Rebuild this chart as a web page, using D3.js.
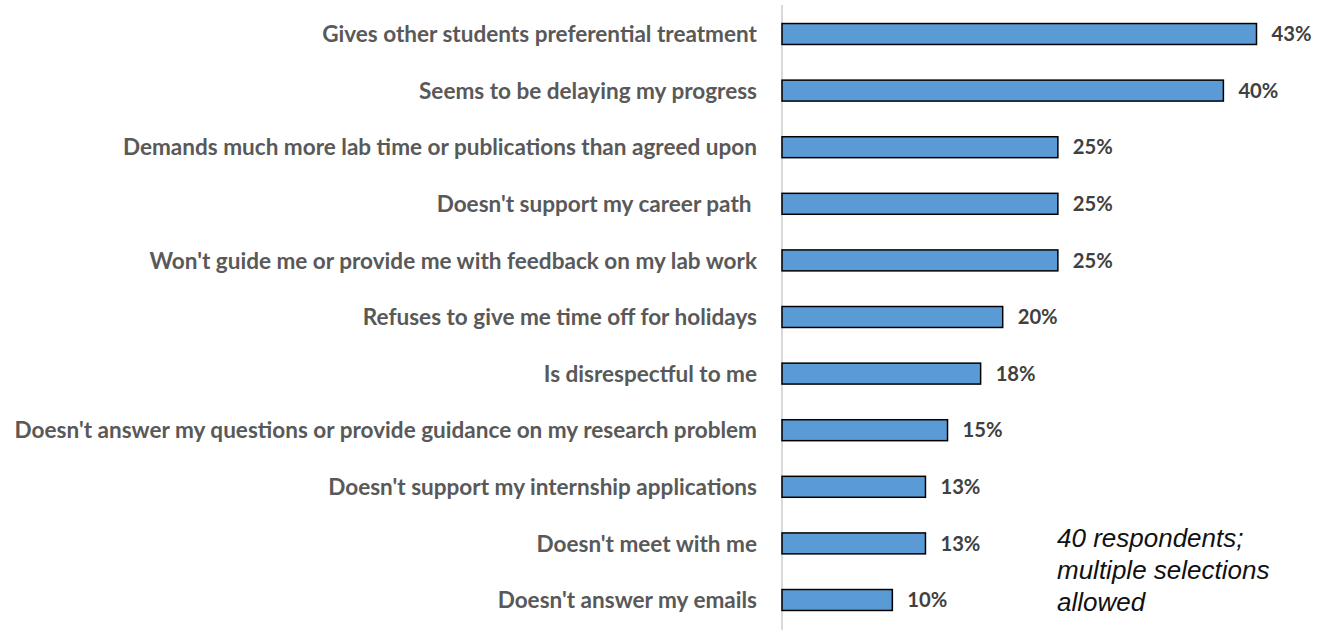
<!DOCTYPE html>
<html>
<head>
<meta charset="utf-8">
<script src="https://cdn.jsdelivr.net/npm/d3@7"></script>
<style>
  html, body { margin: 0; padding: 0; background: #ffffff; }
  svg { display: block; }
  text { white-space: pre; }
</style>
</head>
<body>
<svg id="chart" width="1332" height="630"></svg>
<script>
// Reasons reported, top to bottom
const categories = [
  "Gives other students preferential treatment",
  "Seems to be delaying my progress",
  "Demands much more lab time or publications than agreed upon",
  "Doesn't support my career path ",
  "Won't guide me or provide me with feedback on my lab work",
  "Refuses to give me time off for holidays",
  "Is disrespectful to me",
  "Doesn't answer my questions or provide guidance on my research problem",
  "Doesn't support my internship applications",
  "Doesn't meet with me",
  "Doesn't answer my emails"
];
// Share of respondents (%)
const values = [43, 40, 25, 25, 25, 20, 18, 15, 13, 13, 10];
const valueLabels = ["43%", "40%", "25%", "25%", "25%", "20%", "18%", "15%", "13%", "13%", "10%"];
const noteLines = ["40 respondents;", "multiple selections", "allowed"];

const svg = d3.select("#chart");
const labelFont = "Lato, 'Open Sans', sans-serif";

const x = d3.scaleLinear().domain([0, 43]).range([782, 1256.5]);
const y = d3.scaleBand()
  .domain(categories)
  .range([5.7, 628.3])
  .paddingInner(0.63)
  .paddingOuter(0.315);

// vertical category axis line
svg.append("line")
  .attr("x1", x(0)).attr("x2", x(0))
  .attr("y1", 5).attr("y2", 630)
  .attr("stroke", "#d9d9d9")
  .attr("stroke-width", 2);

// bars
svg.append("g").selectAll("rect")
  .data(values)
  .join("rect")
  .attr("x", x(0))
  .attr("y", (d, i) => y(categories[i]))
  .attr("width", d => x(d) - x(0))
  .attr("height", y.bandwidth())
  .attr("fill", "#5b9bd5")
  .attr("stroke", "#000000")
  .attr("stroke-width", 1.5);

// category labels, sized so the longest one spans the left margin
const catG = svg.append("g");
const cats = catG.selectAll("text")
  .data(categories)
  .join("text")
  .attr("x", 757)
  .attr("y", d => y(d) + y.bandwidth() / 2)
  .attr("dy", "0.36em")
  .attr("text-anchor", "end")
  .attr("font-family", labelFont)
  .attr("font-weight", 700)
  .attr("font-size", 18)
  .attr("fill", "#595959")
  .text(d => d);
const longest = d3.max(cats.nodes(), n => n.getComputedTextLength());
cats.attr("font-size", 18 * 743 / longest);

// value labels
const vals = svg.append("g").selectAll("text")
  .data(values)
  .join("text")
  .attr("x", d => x(d) + 15)
  .attr("y", (d, i) => y(categories[i]) + y.bandwidth() / 2)
  .attr("dy", "0.36em")
  .attr("font-family", labelFont)
  .attr("font-weight", 700)
  .attr("font-size", 18)
  .attr("fill", "#404040")
  .text((d, i) => valueLabels[i]);
const w43 = vals.nodes()[0].getComputedTextLength();
vals.attr("font-size", 18 * 40 / w43);

// respondents note
svg.append("g").selectAll("text")
  .data(noteLines)
  .join("text")
  .attr("x", 1057)
  .attr("y", (d, i) => 547 + i * 32)
  .attr("font-family", "'Liberation Sans', Arial, sans-serif")
  .attr("font-style", "italic")
  .attr("font-size", 26)
  .attr("fill", "#111111")
  .text(d => d);
</script>
</body>
</html>
